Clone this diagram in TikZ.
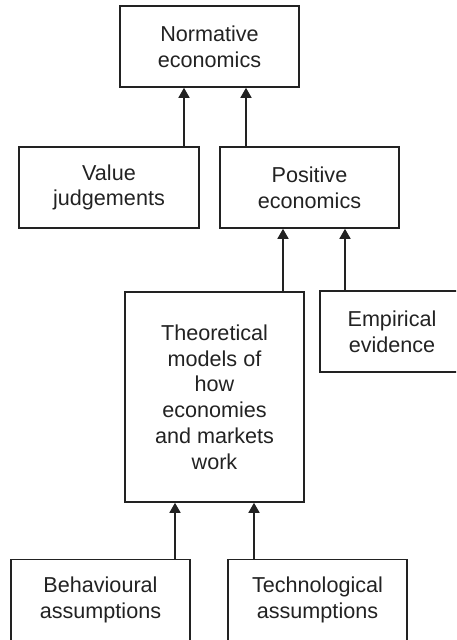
\documentclass[tikz,border=0pt]{standalone}
\usepackage{fontspec}
\setmainfont{Liberation Sans}
\usetikzlibrary{arrows.meta}
\definecolor{ink}{HTML}{222222}
\begin{document}
\begin{tikzpicture}[x=1pt,y=-1pt,
  box/.style={draw=ink,line width=1.6pt,text=ink,align=center,inner sep=0pt,
    minimum width=179pt,minimum height=81pt,
    font=\fontsize{21.6pt}{25.8pt}\selectfont},
  arr/.style={draw=ink,line width=1.6pt,-{Triangle[width=11pt,length=10pt]}}]
\useasboundingbox (0,0) rectangle (456,640);
\clip (0,0) rectangle (456,640);
\node[box] (norm) at (209.5,46.5) {Normative\\economics};
\node[box,minimum width=180pt] (value) at (109,187.5) {Value\\judgements};
\node[box] (pos) at (309.5,187.5) {Positive\\economics};
\node[box,minimum height=210pt] (theory) at (214.5,397) {Theoretical\\models of\\how\\economies\\and markets\\work};
\node[box,minimum width=144pt] (emp) at (392,331.5) {Empirical\\evidence};
\node[box] (behav) at (100.5,600) {Behavioural\\assumptions};
\node[box] (tech) at (317.5,600) {Technological\\assumptions};
\coordinate (xa) at (184,0);
\coordinate (xb) at (246,0);
\coordinate (xc) at (283,0);
\coordinate (xd) at (345,0);
\coordinate (xe) at (175,0);
\coordinate (xf) at (254,0);
\draw[arr] (value.north -| xa) -- (norm.south -| xa);
\draw[arr] (pos.north -| xb) -- (norm.south -| xb);
\draw[arr] (theory.north -| xc) -- (pos.south -| xc);
\draw[arr] (emp.north -| xd) -- (pos.south -| xd);
\draw[arr] (behav.north -| xe) -- (theory.south -| xe);
\draw[arr] (tech.north -| xf) -- (theory.south -| xf);
\end{tikzpicture}
\end{document}
